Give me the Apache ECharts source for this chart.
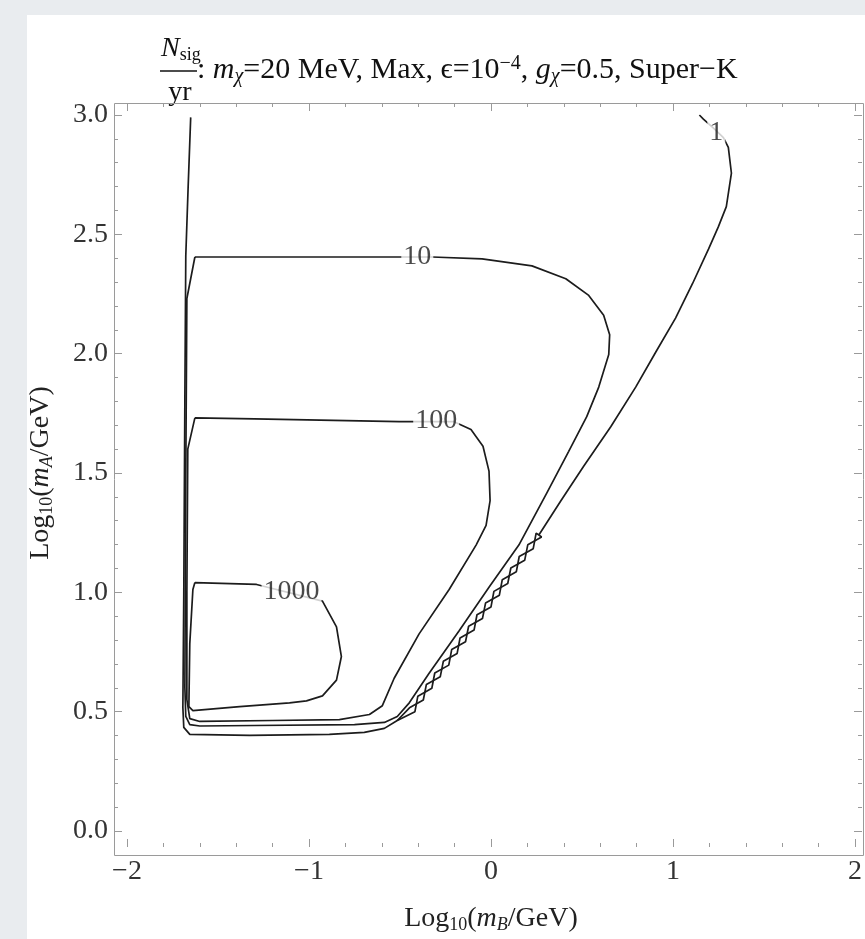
<!DOCTYPE html>
<html>
<head>
<meta charset="utf-8">
<script src="https://cdn.jsdelivr.net/npm/echarts/dist/echarts.min.js"></script>
<style>
  html, body { margin: 0; padding: 0; background: #e9ecef; }
  #chart { width: 865px; height: 939px; }
</style>
</head>
<body>
<div id="chart"></div>
<script>
// Contour levels of N_sig / yr and where each level's label sits on its curve
const contourLevels = ['1', '10', '100', '1000'];
const labelPositions = [[1.238, 2.926], [-0.405, 2.405], [-0.301, 1.721], [-1.096, 1.004]];

// Axis tick values
const xTickValues = [-2, -1, 0, 1, 2];
const yTickValues = [0.0, 0.5, 1.0, 1.5, 2.0, 2.5, 3.0];

// N = 1 contour (log10 mB, log10 mA); the middle stretch follows the grid staircase
const contour1 = [
  [-1.650, 2.990], [-1.664, 2.700], [-1.677, 2.409], [-1.682, 1.818], [-1.688, 0.992],
  [-1.693, 0.517], [-1.688, 0.434], [-1.655, 0.405], [-1.326, 0.401], [-0.888, 0.405],
  [-0.696, 0.413], [-0.586, 0.430], [-0.515, 0.463],
  [-0.418, 0.500], [-0.402, 0.565], [-0.325, 0.598], [-0.309, 0.662], [-0.232, 0.695],
  [-0.216, 0.760], [-0.140, 0.793], [-0.123, 0.858], [-0.047, 0.890], [-0.030, 0.955],
  [0.046, 0.988], [0.062, 1.053], [0.139, 1.086], [0.155, 1.150], [0.232, 1.183],
  [0.248, 1.248], [0.263, 1.240],
  [0.384, 1.384], [0.510, 1.529], [0.658, 1.694], [0.795, 1.860], [0.904, 2.005],
  [1.014, 2.149], [1.107, 2.293], [1.195, 2.438], [1.249, 2.531], [1.293, 2.616],
  [1.321, 2.756], [1.304, 2.864], [1.277, 2.905], [1.227, 2.942], [1.167, 2.983],
  [1.145, 3.000]
];

// Second branch of the N = 1 staircase along the kinematic edge
const contour1Step = [
  [-0.515, 0.463],
  [-0.448, 0.516], [-0.372, 0.549], [-0.355, 0.614], [-0.279, 0.646], [-0.262, 0.711],
  [-0.186, 0.744], [-0.170, 0.809], [-0.093, 0.842], [-0.077, 0.906], [0.000, 0.939],
  [0.016, 1.004], [0.092, 1.037], [0.109, 1.102], [0.185, 1.134], [0.202, 1.199],
  [0.278, 1.232], [0.263, 1.240]
];

// N = 10 contour
const contour10 = [
  [-1.627, 2.405], [-1.300, 2.405], [-0.700, 2.405], [-0.323, 2.405], [-0.049, 2.397],
  [0.225, 2.368], [0.411, 2.314], [0.537, 2.244], [0.619, 2.161], [0.652, 2.079],
  [0.647, 1.996], [0.592, 1.860], [0.526, 1.736], [0.427, 1.591], [0.307, 1.417],
  [0.153, 1.198], [-0.011, 1.021], [-0.175, 0.839], [-0.340, 0.661], [-0.449, 0.537],
  [-0.515, 0.480], [-0.586, 0.455], [-0.750, 0.446], [-1.300, 0.442], [-1.600, 0.440],
  [-1.655, 0.446], [-1.677, 0.480], [-1.682, 0.600], [-1.677, 1.500], [-1.671, 2.231],
  [-1.627, 2.405]
];

// N = 100 contour
const contour100 = [
  [-1.627, 1.731], [-1.300, 1.727], [-0.504, 1.715], [-0.203, 1.715], [-0.110, 1.682],
  [-0.044, 1.612], [-0.011, 1.508], [-0.005, 1.384], [-0.027, 1.281], [-0.082, 1.198],
  [-0.230, 1.012], [-0.395, 0.826], [-0.532, 0.640], [-0.597, 0.525], [-0.668, 0.488],
  [-0.833, 0.467], [-1.200, 0.463], [-1.600, 0.459], [-1.655, 0.471], [-1.671, 0.550],
  [-1.671, 1.000], [-1.666, 1.600], [-1.627, 1.731]
];

// N = 1000 contour
const contour1000 = [
  [-1.627, 1.041], [-1.288, 1.033], [-0.926, 0.963], [-0.849, 0.855], [-0.822, 0.731],
  [-0.849, 0.632], [-0.926, 0.566], [-1.014, 0.545], [-1.107, 0.537], [-1.381, 0.521],
  [-1.638, 0.504], [-1.660, 0.521], [-1.655, 0.785], [-1.638, 1.012], [-1.627, 1.041]
];

const SERIF = '"Liberation Serif", "Times New Roman", serif';
const INK = '#1c1c1c';
const TICK = '#9a9a9a';
const FS = 28;
const FS_SMALL = 18;

const chart = echarts.init(document.getElementById('chart'), null, { renderer: 'canvas' });

function minusSign(v) {
  return v < 0 ? '\u2212' + Math.abs(v) : String(v);
}

function makeXAxis(position, offset, showLabel) {
  return {
    type: 'value', position: position, offset: offset,
    min: xTickValues[0], max: xTickValues[xTickValues.length - 1], interval: 1,
    axisLine: { show: false, onZero: false },
    axisTick: { show: true, inside: true, length: 8, lineStyle: { color: TICK, width: 1 } },
    minorTick: { show: true, splitNumber: 5, length: 4, lineStyle: { color: TICK, width: 1 } },
    splitLine: { show: false },
    axisLabel: {
      show: showLabel, margin: 11, color: '#333', fontFamily: SERIF, fontSize: FS,
      formatter: minusSign
    }
  };
}

function makeYAxis(position, offset, showLabel) {
  return {
    type: 'value', position: position, offset: offset,
    min: yTickValues[0], max: yTickValues[yTickValues.length - 1], interval: 0.5,
    axisLine: { show: false, onZero: false },
    axisTick: { show: true, inside: true, length: 8, lineStyle: { color: TICK, width: 1 } },
    minorTick: { show: true, splitNumber: 5, length: 4, lineStyle: { color: TICK, width: 1 } },
    splitLine: { show: false },
    axisLabel: {
      show: showLabel, margin: 6, color: '#333', fontFamily: SERIF, fontSize: FS,
      formatter: function (v) { return v.toFixed(1); }
    }
  };
}

const subPad = [13, 0, 0, 0];
const supPad = [0, 0, 13, 0];

const nameRich = {
  n: { fontFamily: SERIF, fontSize: FS, color: '#222' },
  s: { fontFamily: SERIF, fontSize: FS_SMALL, color: '#222', padding: subPad },
  i: { fontFamily: SERIF, fontSize: FS, fontStyle: 'italic', color: '#222' },
  is: { fontFamily: SERIF, fontSize: FS_SMALL, fontStyle: 'italic', color: '#222', padding: subPad }
};

const xAxisBottom = makeXAxis('bottom', 16, true);
xAxisBottom.name = '{n|Log}{s|10}{n|(}{i|m}{is|B}{n|/GeV)}';
xAxisBottom.nameLocation = 'middle';
xAxisBottom.nameGap = 56;
xAxisBottom.nameTextStyle = { fontFamily: SERIF, color: '#222', rich: nameRich };

const yAxisLeft = makeYAxis('left', 13, true);
yAxisLeft.name = '{n|Log}{s|10}{n|(}{i|m}{is|A}{n|/GeV)}';
yAxisLeft.nameLocation = 'middle';
yAxisLeft.nameGap = 58;
yAxisLeft.nameRotate = 90;
yAxisLeft.nameTextStyle = { fontFamily: SERIF, color: '#222', rich: nameRich };

function contourSeries(data) {
  return {
    type: 'line', data: data, xAxisIndex: 0, yAxisIndex: 0,
    showSymbol: false, symbol: 'none', smooth: false, silent: true,
    lineStyle: { color: INK, width: 1.7 }, z: 3
  };
}

const labelData = labelPositions.map(function (p, i) {
  return { value: p, label: { formatter: contourLevels[i] } };
});

const option = {
  backgroundColor: '#e9ecef',
  animation: false,
  grid: { left: 127, right: 8, top: 115, bottom: 99, containLabel: false },
  xAxis: [xAxisBottom, makeXAxis('top', 12, false)],
  yAxis: [yAxisLeft, makeYAxis('right', 7, false)],
  graphic: [
    { type: 'rect', z: -10, silent: true, shape: { x: 27, y: 15, width: 860, height: 940 }, style: { fill: '#ffffff' } },
    { type: 'rect', z: 1, silent: true, shape: { x: 114.5, y: 103.5, width: 749, height: 752 }, style: { fill: 'none', stroke: TICK, lineWidth: 1 } },
    {
      type: 'text', x: 161, y: 49, silent: true,
      style: {
        text: '{i|N}{s|sig}', verticalAlign: 'middle', align: 'left',
        rich: {
          i: { fontFamily: SERIF, fontSize: FS, fontStyle: 'italic', fill: '#111' },
          s: { fontFamily: SERIF, fontSize: FS_SMALL, fill: '#111', padding: subPad }
        }
      }
    },
    { type: 'line', silent: true, shape: { x1: 160, y1: 71, x2: 197, y2: 71 }, style: { stroke: '#111', lineWidth: 1.3 } },
    {
      type: 'text', x: 180, y: 93, silent: true,
      style: { text: 'yr', fontFamily: SERIF, fontSize: FS, fill: '#111', align: 'center', verticalAlign: 'middle' }
    },
    {
      type: 'text', x: 197, y: 70, silent: true,
      style: {
        text: '{n|: }{i|m}{s|\u03c7}{n|=20 MeV, Max, \u03f5=10}{p|\u22124}{n|, }{i|g}{s|\u03c7}{n|=0.5, Super\u2212K}',
        verticalAlign: 'middle', align: 'left',
        rich: {
          n: { fontFamily: SERIF, fontSize: 30, fill: '#111' },
          i: { fontFamily: SERIF, fontSize: 30, fontStyle: 'italic', fill: '#111' },
          s: { fontFamily: SERIF, fontSize: 20, fontStyle: 'italic', fill: '#111', padding: subPad },
          p: { fontFamily: SERIF, fontSize: 20, fill: '#111', padding: supPad }
        }
      }
    }
  ],
  series: [
    contourSeries(contour1),
    contourSeries(contour1Step),
    contourSeries(contour10),
    contourSeries(contour100),
    contourSeries(contour1000),
    {
      type: 'scatter', data: labelData, symbolSize: 0, silent: true, z: 6,
      label: {
        show: true, position: 'inside', fontFamily: SERIF, fontSize: FS, color: '#1c1c1c',
        backgroundColor: '#ffffff', padding: [0, 2]
      }
    }
  ]
};

chart.setOption(option);
</script>
</body>
</html>
